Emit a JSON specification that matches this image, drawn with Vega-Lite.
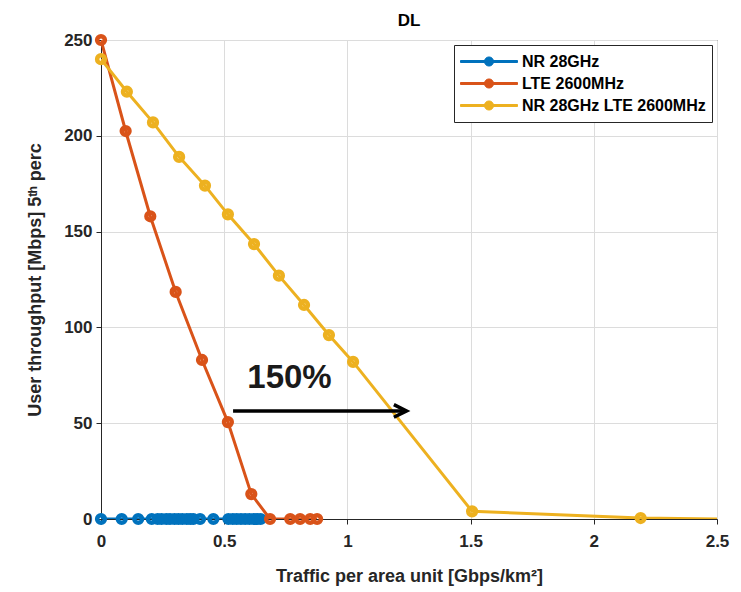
{
  "$schema": "https://vega.github.io/schema/vega-lite/v6.json",
  "width": 616,
  "height": 479,
  "autosize": {"type": "none"},
  "padding": {"left": 101, "top": 40, "right": 24, "bottom": 73},
  "background": "white",
  "title": {"text": "DL", "font": "Liberation Sans", "fontSize": 17, "fontWeight": "bold", "color": "#000000", "offset": -3},
  "config": {
    "font": "Liberation Sans",
    "view": {"stroke": "#262626", "strokeWidth": 1},
    "axis": {
      "labelFont": "Liberation Sans", "labelFontSize": 17, "labelFontWeight": "bold", "labelColor": "#262626",
      "titleFont": "Liberation Sans", "titleFontSize": 18, "titleFontWeight": "bold", "titleColor": "#262626",
      "domainColor": "#262626", "tickColor": "#262626", "gridColor": "#dcdcdc", "gridWidth": 1,
      "tickSize": 5, "labelFlush": false
    }
  },
  "datasets": {
    "series": [
      {"s": "NR 28GHz", "x": 0.0, "y": 0},
      {"s": "NR 28GHz", "x": 0.084, "y": 0},
      {"s": "NR 28GHz", "x": 0.151, "y": 0},
      {"s": "NR 28GHz", "x": 0.206, "y": 0},
      {"s": "NR 28GHz", "x": 0.23, "y": 0},
      {"s": "NR 28GHz", "x": 0.246, "y": 0},
      {"s": "NR 28GHz", "x": 0.265, "y": 0},
      {"s": "NR 28GHz", "x": 0.28, "y": 0},
      {"s": "NR 28GHz", "x": 0.298, "y": 0},
      {"s": "NR 28GHz", "x": 0.314, "y": 0},
      {"s": "NR 28GHz", "x": 0.33, "y": 0},
      {"s": "NR 28GHz", "x": 0.348, "y": 0},
      {"s": "NR 28GHz", "x": 0.362, "y": 0},
      {"s": "NR 28GHz", "x": 0.375, "y": 0},
      {"s": "NR 28GHz", "x": 0.402, "y": 0},
      {"s": "NR 28GHz", "x": 0.456, "y": 0},
      {"s": "NR 28GHz", "x": 0.517, "y": 0},
      {"s": "NR 28GHz", "x": 0.535, "y": 0},
      {"s": "NR 28GHz", "x": 0.551, "y": 0},
      {"s": "NR 28GHz", "x": 0.568, "y": 0},
      {"s": "NR 28GHz", "x": 0.585, "y": 0},
      {"s": "NR 28GHz", "x": 0.602, "y": 0},
      {"s": "NR 28GHz", "x": 0.619, "y": 0},
      {"s": "NR 28GHz", "x": 0.634, "y": 0},
      {"s": "NR 28GHz", "x": 0.648, "y": 0},
      {"s": "LTE 2600MHz", "x": 0.0, "y": 250},
      {"s": "LTE 2600MHz", "x": 0.1, "y": 202.5},
      {"s": "LTE 2600MHz", "x": 0.2, "y": 158},
      {"s": "LTE 2600MHz", "x": 0.303, "y": 118.5},
      {"s": "LTE 2600MHz", "x": 0.41, "y": 83},
      {"s": "LTE 2600MHz", "x": 0.515, "y": 50.6},
      {"s": "LTE 2600MHz", "x": 0.61, "y": 13},
      {"s": "LTE 2600MHz", "x": 0.686, "y": 0},
      {"s": "LTE 2600MHz", "x": 0.768, "y": 0},
      {"s": "LTE 2600MHz", "x": 0.808, "y": 0},
      {"s": "LTE 2600MHz", "x": 0.849, "y": 0},
      {"s": "LTE 2600MHz", "x": 0.877, "y": 0},
      {"s": "NR 28GHz LTE 2600MHz", "x": 0.0, "y": 240},
      {"s": "NR 28GHz LTE 2600MHz", "x": 0.105, "y": 223},
      {"s": "NR 28GHz LTE 2600MHz", "x": 0.211, "y": 207},
      {"s": "NR 28GHz LTE 2600MHz", "x": 0.317, "y": 189},
      {"s": "NR 28GHz LTE 2600MHz", "x": 0.422, "y": 174},
      {"s": "NR 28GHz LTE 2600MHz", "x": 0.515, "y": 159},
      {"s": "NR 28GHz LTE 2600MHz", "x": 0.621, "y": 143.5},
      {"s": "NR 28GHz LTE 2600MHz", "x": 0.722, "y": 127},
      {"s": "NR 28GHz LTE 2600MHz", "x": 0.824, "y": 111.7},
      {"s": "NR 28GHz LTE 2600MHz", "x": 0.925, "y": 96},
      {"s": "NR 28GHz LTE 2600MHz", "x": 1.023, "y": 82},
      {"s": "NR 28GHz LTE 2600MHz", "x": 1.506, "y": 4},
      {"s": "NR 28GHz LTE 2600MHz", "x": 2.19, "y": 0.5},
      {"s": "NR 28GHz LTE 2600MHz", "x": 2.5, "y": 0}
    ],
    "arrow": [{"x": 0.536, "x2": 1.225, "y": 56.4}],
    "head": [{"x": 1.24, "y": 56.4}],
    "note": [{"x": 0.765, "y": 73.5, "label": "150%"}]
  },
  "layer": [
    {
      "data": {"name": "series"},
      "mark": {"type": "line", "strokeWidth": 3, "clip": true},
      "encoding": {
        "x": {"field": "x", "type": "quantitative", "scale": {"domain": [0, 2.5], "nice": false},
          "axis": {"title": "Traffic per area unit [Gbps/km²]", "values": [0, 0.5, 1, 1.5, 2, 2.5], "labelExpr": "datum.value", "titlePadding": 18, "labelPadding": 9, "labelFlush": false}},
        "y": {"field": "y", "type": "quantitative", "scale": {"domain": [0, 250], "nice": false},
          "axis": {"title": "User throughput [Mbps] 5ᵗʰ perc", "values": [0, 50, 100, 150, 200, 250], "titlePadding": 19, "labelPadding": 4, "labelFlush": false}},
        "color": {"field": "s", "type": "nominal",
          "scale": {"domain": ["NR 28GHz", "LTE 2600MHz", "NR 28GHz LTE 2600MHz"], "range": ["#0072BD", "#D95319", "#EDB120"]},
          "legend": {
            "title": null, "orient": "top-right", "offset": 5,
            "labelFont": "Liberation Sans", "labelFontSize": 16, "labelFontWeight": "bold", "labelColor": "#000000", "labelLimit": 400,
            "strokeColor": "#262626", "fillColor": "white", "padding": 6,
            "symbolType": "M-1,-0.035L1,-0.035L1,0.035L-1,0.035Z M-0.16,0A0.16,0.16 0 1,1 0.16,0A0.16,0.16 0 1,1 -0.16,0Z",
            "symbolSize": 3249, "symbolStrokeWidth": 1,
            "encode": {"symbols": {"update": {"fill": {"field": "value", "scale": "color"}, "fillOpacity": {"value": 1}}}},
            "clipHeight": 21, "rowPadding": 1, "labelOffset": 4
          }},
        "order": {"field": "x", "type": "quantitative"}
      }
    },
    {
      "data": {"name": "series"},
      "transform": [{"filter": "datum.x < 2.4"}],
      "mark": {"type": "point", "shape": "circle", "filled": false, "strokeWidth": 4.5, "size": 60, "opacity": 1, "clip": false},
      "encoding": {
        "x": {"field": "x", "type": "quantitative"},
        "y": {"field": "y", "type": "quantitative"},
        "color": {"field": "s", "type": "nominal", "legend": null}
      }
    },
    {
      "data": {"name": "arrow"},
      "mark": {"type": "rule", "strokeWidth": 3.5, "color": "#000000"},
      "encoding": {
        "x": {"field": "x", "type": "quantitative"},
        "x2": {"field": "x2"},
        "y": {"field": "y", "type": "quantitative"}
      }
    },
    {
      "data": {"name": "head"},
      "mark": {"type": "point", "shape": "M-2,-1L0,0L-2,1", "filled": false, "strokeWidth": 3.5, "size": 160, "color": "#000000", "opacity": 1},
      "encoding": {
        "x": {"field": "x", "type": "quantitative"},
        "y": {"field": "y", "type": "quantitative"}
      }
    },
    {
      "data": {"name": "note"},
      "mark": {"type": "text", "font": "Liberation Sans", "fontSize": 33, "fontWeight": "bold", "color": "#1a1a1a", "baseline": "middle", "align": "center"},
      "encoding": {
        "x": {"field": "x", "type": "quantitative"},
        "y": {"field": "y", "type": "quantitative"},
        "text": {"field": "label"}
      }
    }
  ]
}
